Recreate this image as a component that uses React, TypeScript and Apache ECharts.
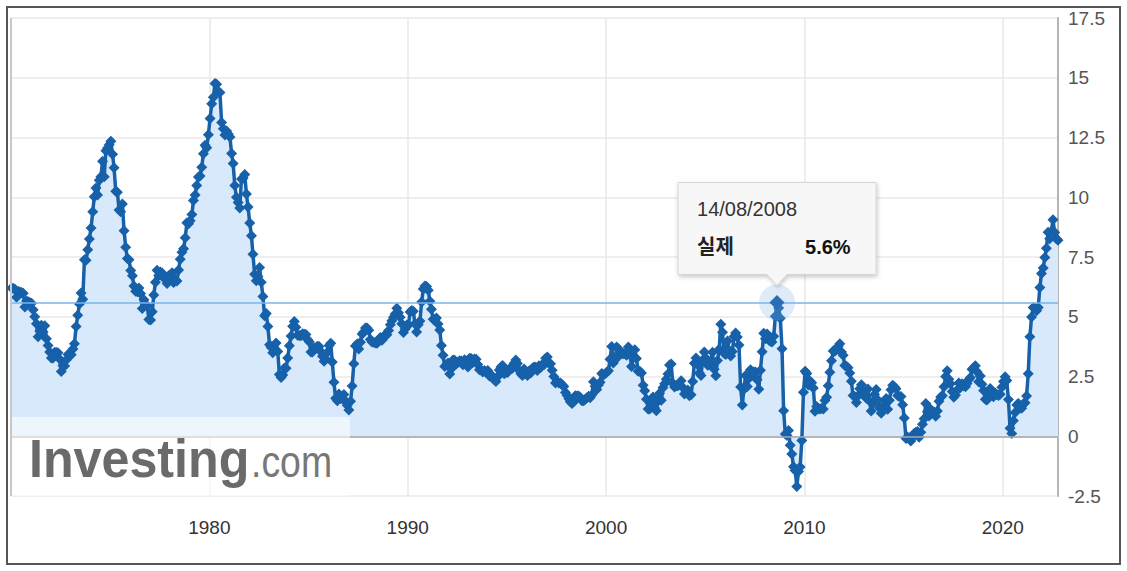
import React, { useEffect, useRef } from "react";
import * as echarts from "echarts";

// ---------- data (US CPI, YoY %, monthly; first value = Dec 1969) ----------
const START_YEAR = 1969;
const START_MONTH = 11; // 0-based month of the first value
const RELEASE_DAY = 14; // values are plotted at their release date (next month)

const cpi1969 = [6.2];
const cpi1970s = [
  6.18, 6.15, 5.82, 6.06, 6.04, 6.01, 5.98, 5.41, 5.66, 5.63, 5.6, 5.57,
  5.29, 5.0, 4.71, 4.16, 4.4, 4.64, 4.36, 4.62, 4.08, 3.8, 3.53, 3.27,
  3.27, 3.51, 3.5, 3.49, 3.23, 2.71, 2.95, 2.94, 3.19, 3.42, 3.41, 3.41,
  3.65, 3.87, 4.59, 5.06, 5.53, 5.99, 5.73, 7.38, 7.36, 7.8, 8.25, 8.71,
  9.39, 10.02, 10.39, 10.09, 10.71, 10.86, 11.51, 10.86, 11.95, 12.06, 12.2, 12.34,
  11.8, 11.23, 10.25, 10.21, 9.47, 9.39, 9.72, 8.6, 7.91, 7.44, 7.38, 6.94,
  6.72, 6.29, 6.07, 6.05, 6.2, 5.97, 5.35, 5.71, 5.49, 5.46, 4.88, 4.86,
  5.21, 5.91, 6.44, 6.95, 6.73, 6.87, 6.83, 6.62, 6.6, 6.39, 6.72, 6.7,
  6.84, 6.43, 6.55, 6.5, 6.96, 7.41, 7.7, 7.84, 8.31, 8.93, 8.89, 9.02,
  9.28, 9.86, 10.09, 10.49, 10.85, 10.89, 11.26, 11.82, 12.18, 12.07, 12.61, 13.29,
];
const cpi1980s = [
  13.91, 14.18, 14.76, 14.73, 14.41, 14.38, 13.13, 12.87, 12.6, 12.77, 12.65, 12.52,
  11.83, 11.41, 10.49, 10.0, 9.78, 9.55, 10.76, 10.8, 10.95, 10.14, 9.59, 8.92,
  8.39, 7.62, 6.78, 6.51, 6.68, 7.06, 6.44, 5.85, 5.04, 5.14, 4.59, 3.83,
  3.71, 3.49, 3.6, 3.9, 3.55, 2.58, 2.46, 2.56, 2.86, 2.85, 3.27, 3.79,
  4.19, 4.6, 4.8, 4.56, 4.23, 4.22, 4.2, 4.29, 4.27, 4.26, 4.05, 3.95,
  3.53, 3.52, 3.7, 3.69, 3.77, 3.76, 3.55, 3.35, 3.14, 3.23, 3.51, 3.8,
  3.89, 3.11, 2.26, 1.59, 1.49, 1.77, 1.58, 1.57, 1.75, 1.47, 1.3, 1.1,
  1.46, 2.1, 3.03, 3.78, 3.86, 3.65, 3.93, 4.28, 4.36, 4.53, 4.53, 4.43,
  4.05, 3.94, 3.93, 3.9, 3.89, 3.96, 4.13, 4.02, 4.17, 4.25, 4.25, 4.42,
  4.67, 4.83, 4.98, 5.11, 5.36, 5.17, 4.98, 4.71, 4.34, 4.49, 4.66, 4.65,
];
const cpi1990s = [
  5.2, 5.26, 5.23, 4.71, 4.36, 4.67, 4.82, 5.62, 6.16, 6.29, 6.27, 6.11,
  5.65, 5.31, 4.9, 4.89, 4.95, 4.7, 4.45, 3.8, 3.39, 2.92, 2.99, 3.06,
  2.6, 2.82, 3.19, 3.18, 3.02, 3.09, 3.16, 3.15, 2.99, 3.2, 3.05, 2.9,
  3.26, 3.25, 3.09, 3.23, 3.22, 3.0, 2.78, 2.77, 2.69, 2.75, 2.68, 2.75,
  2.52, 2.52, 2.51, 2.36, 2.29, 2.49, 2.77, 2.9, 2.96, 2.61, 2.67, 2.67,
  2.8, 2.86, 2.85, 3.05, 3.19, 3.04, 2.76, 2.62, 2.54, 2.81, 2.61, 2.54,
  2.73, 2.65, 2.84, 2.9, 2.89, 2.75, 2.95, 2.88, 3.0, 2.99, 3.26, 3.32,
  3.04, 3.03, 2.76, 2.5, 2.23, 2.3, 2.23, 2.23, 2.15, 2.08, 1.83, 1.7,
  1.57, 1.44, 1.37, 1.44, 1.69, 1.68, 1.68, 1.62, 1.49, 1.49, 1.55, 1.61,
  1.67, 1.61, 1.73, 2.28, 2.09, 1.96, 2.14, 2.26, 2.63, 2.56, 2.62, 2.68,
];
const cpi2000s = [
  2.74, 3.22, 3.76, 3.07, 3.19, 3.73, 3.66, 3.41, 3.45, 3.45, 3.45, 3.39,
  3.73, 3.53, 2.92, 3.27, 3.62, 3.25, 2.72, 2.72, 2.65, 2.13, 1.9, 1.55,
  1.14, 1.14, 1.48, 1.64, 1.18, 1.07, 1.46, 1.8, 1.51, 2.03, 2.2, 2.38,
  2.6, 2.98, 3.02, 2.22, 2.06, 2.11, 2.11, 2.16, 2.32, 2.04, 1.77, 1.88,
  1.93, 1.69, 1.74, 2.29, 3.05, 3.27, 2.99, 2.65, 2.54, 3.19, 3.52, 3.26,
  2.97, 3.01, 3.15, 3.51, 2.8, 2.53, 3.17, 3.64, 4.69, 4.35, 3.46, 3.42,
  3.99, 3.6, 3.36, 3.55, 4.17, 4.32, 4.15, 3.82, 2.06, 1.31, 1.97, 2.54,
  2.08, 2.42, 2.78, 2.57, 2.69, 2.69, 2.36, 1.97, 2.76, 3.54, 4.31, 4.08,
  4.28, 4.03, 3.98, 3.94, 4.18, 5.02, 5.6, 5.37, 4.94, 3.66, 1.07, 0.09,
  0.03, 0.24, -0.38, -0.74, -1.28, -1.43, -2.1, -1.48, -1.29, -0.18, 1.84, 2.72,
];
const cpi2010s = [
  2.63, 2.14, 2.31, 2.24, 2.02, 1.05, 1.24, 1.15, 1.14, 1.17, 1.14, 1.5,
  1.63, 2.11, 2.68, 3.16, 3.57, 3.56, 3.63, 3.77, 3.87, 3.53, 3.39, 2.96,
  2.93, 2.87, 2.65, 2.3, 1.7, 1.66, 1.41, 1.69, 1.99, 2.16, 1.76, 1.74,
  1.59, 1.98, 1.47, 1.06, 1.36, 1.75, 1.96, 1.52, 1.18, 0.96, 1.24, 1.5,
  1.58, 1.13, 1.51, 1.95, 2.13, 2.07, 1.99, 1.7, 1.66, 1.66, 1.32, 0.76,
  -0.09, -0.03, -0.07, -0.2, -0.04, 0.12, 0.17, 0.2, -0.04, 0.17, 0.5, 0.73,
  1.37, 1.02, 0.85, 1.13, 1.02, 1.01, 0.84, 1.06, 1.46, 1.64, 1.69, 2.07,
  2.5, 2.74, 2.38, 2.2, 1.87, 1.63, 1.73, 1.94, 2.23, 2.04, 2.2, 2.11,
  2.07, 2.21, 2.36, 2.46, 2.8, 2.87, 2.95, 2.7, 2.28, 2.52, 2.18, 1.91,
  1.55, 1.52, 1.86, 2.0, 1.79, 1.65, 1.81, 1.75, 1.71, 1.76, 2.05, 2.29,
];
const cpi2020s = [
  2.49, 2.33, 1.54, 0.33, 0.12, 0.65, 0.99, 1.31, 1.37, 1.18, 1.17, 1.36,
  1.4, 1.68, 2.62, 4.16, 4.99, 5.39, 5.37, 5.25, 5.39, 6.22, 6.81, 7.04,
  7.48, 7.87, 8.54, 8.26, 8.58, 9.06, 8.52, 8.26, 8.2,
];

const SERIES_NAME = "실제";
const HIGHLIGHT_YEAR = 2008;
const HIGHLIGHT_MONTH = 6; // July 2008 value (released 14/08/2008)

const X_MIN = 1970;
const X_INTERVAL = 10;
const Y_MIN = -2.5;
const Y_MAX = 17.5;
const Y_INTERVAL = 2.5;

// ---------- helpers ----------
const allValues = [...cpi1969, ...cpi1970s, ...cpi1980s, ...cpi1990s, ...cpi2000s, ...cpi2010s, ...cpi2020s];
const YEAR_MS = 365.2425 * 86400000;

function releaseTime(i: number): number {
  const mi = START_MONTH + i + 1;
  const y = START_YEAR + Math.floor(mi / 12);
  const m = mi % 12;
  return Date.UTC(y, m, RELEASE_DAY);
}
const toDecimalYear = (t: number) => 1970 + t / YEAR_MS;

const points = allValues.map((v, i) => [toDecimalYear(releaseTime(i)), v]);

const hIndex = (HIGHLIGHT_YEAR - START_YEAR) * 12 + HIGHLIGHT_MONTH - START_MONTH;
const hPoint = points[hIndex];
const hDate = new Date(releaseTime(hIndex));
const pad = (n: number) => String(n).padStart(2, "0");
const hDateLabel = `${pad(hDate.getUTCDate())}/${pad(hDate.getUTCMonth() + 1)}/${hDate.getUTCFullYear()}`;
const hValueLabel = `${allValues[hIndex].toFixed(1)}%`;

const FONT = "'Liberation Sans', Arial, 'Noto Sans CJK KR', sans-serif";
const LINE_COLOR = "#1661a9";
const GRID = { left: 11, right: 69, top: 18, bottom: 75 };
const W = 1127;
const H = 571;

export default function App() {
  const ref = useRef<HTMLDivElement>(null);

  useEffect(() => {
    if (!ref.current) return;
    const chart = echarts.init(ref.current, null, { renderer: "svg" });

    chart.setOption({
      animation: false,
      backgroundColor: "#ffffff",
      textStyle: { fontFamily: FONT },
      grid: { ...GRID, containLabel: false },
      xAxis: {
        type: "value",
        min: X_MIN,
        max: "dataMax",
        interval: X_INTERVAL,
        axisLine: { show: true, lineStyle: { color: "#ccd6eb", width: 1.5 } },
        axisTick: { show: false },
        splitLine: { show: true, lineStyle: { color: "#e8e8e8", width: 1.5 } },
        axisLabel: {
          color: "#333333",
          fontSize: 19,
          margin: 22,
          showMinLabel: false,
          showMaxLabel: false,
          formatter: (v: number) => (Math.abs(v % X_INTERVAL) < 1e-6 ? String(Math.round(v)) : ""),
        },
      },
      yAxis: {
        type: "value",
        position: "right",
        min: Y_MIN,
        max: Y_MAX,
        interval: Y_INTERVAL,
        axisLine: { show: true, lineStyle: { color: "#b5b5b5", width: 2 } },
        axisTick: { show: false },
        splitLine: { show: true, lineStyle: { color: "#e8e8e8", width: 1.5 } },
        axisLabel: { color: "#555555", fontSize: 19, margin: 10 },
      },
      series: [
        {
          name: SERIES_NAME,
          type: "line",
          data: points,
          symbol: "diamond",
          symbolSize: 11,
          showSymbol: true,
          showAllSymbol: true,
          z: 2,
          lineStyle: { color: LINE_COLOR, width: 3.5 },
          itemStyle: { color: LINE_COLOR },
          areaStyle: { color: "#d8e9fb", opacity: 1 },
          markLine: {
            silent: true,
            symbol: ["none", "none"],
            label: { show: false },
            data: [
              { yAxis: 0, lineStyle: { color: "#a8a8a8", width: 1.5, type: "solid" } },
              { yAxis: hPoint[1], lineStyle: { color: "#7ab4ea", width: 1.5, type: "solid" } },
            ],
          },
          markPoint: {
            silent: true,
            label: { show: false },
            data: [
              { coord: hPoint, symbol: "circle", symbolSize: 36, itemStyle: { color: "rgba(124,181,236,0.25)" } },
              { coord: hPoint, symbol: "diamond", symbolSize: 15, itemStyle: { color: "#2a6fb3" } },
            ],
          },
        },
      ],
    });

    const [px, py] = chart.convertToPixel({ gridIndex: 0 }, hPoint) as number[];
    const boxW = 198;
    const boxH = 92;
    const left = px - boxW / 2;
    const bottom = py - 28;
    const top = bottom - boxH;
    const tip = py - 17;
    const plotBottom = H - GRID.bottom;

    chart.setOption({
      graphic: [
        // outer frame
        {
          type: "rect",
          z: 100,
          silent: true,
          shape: { x: 7, y: 7, width: 1113, height: 557 },
          style: { fill: "none", stroke: "#555555", lineWidth: 2 },
        },
        // left plot border
        {
          type: "line",
          z: 50,
          silent: true,
          shape: { x1: GRID.left, y1: GRID.top, x2: GRID.left, y2: plotBottom },
          style: { stroke: "#c8c8c8", lineWidth: 2 },
        },
        // watermark overlay
        {
          type: "rect",
          z: 40,
          silent: true,
          shape: { x: GRID.left + 1, y: 417, width: 338, height: plotBottom - 417 },
          style: { fill: "rgba(255,255,255,0.55)" },
        },
        {
          type: "text",
          z: 41,
          silent: true,
          x: 29,
          y: 458,
          scaleX: 0.93,
          style: {
            text: "Investing",
            fill: "#6a6a6a",
            font: `bold 54px ${FONT}`,
            verticalAlign: "middle",
            align: "left",
          },
        },
        {
          type: "text",
          z: 41,
          silent: true,
          x: 251,
          y: 462,
          scaleX: 0.85,
          style: {
            text: ".com",
            fill: "#777777",
            font: `44px ${FONT}`,
            verticalAlign: "middle",
            align: "left",
          },
        },
        // tooltip
        {
          type: "polygon",
          z: 60,
          silent: true,
          shape: {
            points: [
              [left, top],
              [left + boxW, top],
              [left + boxW, bottom],
              [px + 10, bottom],
              [px, tip],
              [px - 10, bottom],
              [left, bottom],
            ],
          },
          style: {
            fill: "#f7f7f7",
            stroke: "#d6d6d6",
            lineWidth: 1,
            shadowBlur: 4,
            shadowColor: "rgba(0,0,0,0.22)",
            shadowOffsetX: 1,
            shadowOffsetY: 2,
          },
        },
        {
          type: "text",
          z: 61,
          silent: true,
          x: left + 19,
          y: top + 27,
          style: { text: hDateLabel, fill: "#333333", font: `20px ${FONT}`, verticalAlign: "middle" },
        },
        {
          type: "text",
          z: 61,
          silent: true,
          x: left + 19,
          y: top + 65,
          style: { text: SERIES_NAME, fill: "#222222", font: `bold 20px ${FONT}`, verticalAlign: "middle" },
        },
        {
          type: "text",
          z: 61,
          silent: true,
          x: left + 127,
          y: top + 65,
          style: { text: hValueLabel, fill: "#111111", font: `bold 20px ${FONT}`, verticalAlign: "middle" },
        },
      ],
    });

    return () => chart.dispose();
  }, []);

  return (
    <div
      ref={ref}
      style={{ position: "fixed", left: 0, top: 0, width: W, height: H, background: "#ffffff" }}
    />
  );
}
